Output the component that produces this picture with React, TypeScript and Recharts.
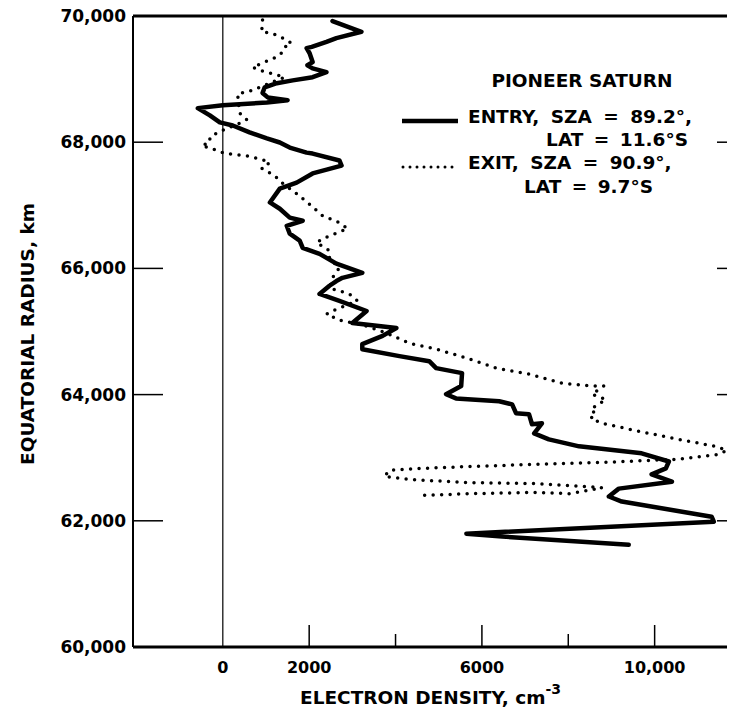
import { ScatterChart, Scatter, XAxis, YAxis, ReferenceLine, Label } from 'recharts';

// Pioneer Saturn occultation profiles
const entryRadius = [
  69920, 69750, 69650, 69590, 69510, 69490, 69410, 69270, 69220, 69170, 69110, 69030, 68980, 68935,
  68870, 68780, 68710, 68665, 68630, 68585, 68540, 68425, 68315, 68265, 68155, 68060, 67995, 67915,
  67835, 67820, 67710, 67630, 67505, 67360, 67265, 67045, 66945, 66805, 66755, 66675, 66550, 66440,
  66325, 66230, 66075, 65930, 65850, 65800, 65725, 65595, 65485, 65325, 65135, 65055, 64930, 64800,
  64720, 64610, 64530, 64420, 64340, 64135, 64005, 63940, 63895, 63845, 63705, 63690, 63530, 63545,
  63385, 63290, 63180, 63070, 62940, 62830, 62735, 62620, 62510, 62385, 62305, 62065, 61985, 61795,
  61750, 61620,
];
const entryDensity = [
  2540, 3210, 2630, 2400, 2060, 1940, 2010, 2080, 1960, 2080, 2400, 2080, 1620, 1250,
  970, 920, 1040, 1500, 1020, 0, -580, -300, -70, 230, 620, 1020, 1320, 1550,
  1940, 2080, 2700, 2750, 2080, 1710, 1320, 1090, 1320, 1550, 1850, 1480, 1550, 1780,
  1850, 2240, 2630, 3230, 2770, 2630, 2470, 2240, 2700, 3330, 3000, 4020, 3700, 3230,
  3230, 4090, 4780, 4940, 5540, 5520, 5170, 5400, 6400, 6700, 6790, 7090, 7160, 7390,
  7210, 7550, 8250, 9700, 10330, 10260, 9930, 10400, 9170, 8940, 9240, 11320, 11370, 5640,
  6470, 9400,
];

const exitRadius = [
  69935, 69745, 69730, 69650, 69570, 69505, 69430, 69350, 69255, 69190, 69140, 69095, 69030, 68825,
  68790, 68775, 68695, 68460, 68360, 68300, 68155, 68075, 67995, 67950, 67870, 67820, 67790, 67725,
  67680, 67585, 67470, 67360, 67185, 67045, 66835, 66725, 66630, 66565, 66470, 66405, 66360, 66280,
  66150, 66010, 65850, 65690, 65595, 65485, 65355, 65275, 65165, 65120, 64975, 64815, 64720, 64580,
  64420, 64325, 64180, 64135, 64135, 64005, 63925, 63765, 63690, 63625, 63545, 63420, 63290, 63180,
  63115, 63050, 62975, 62955, 62925, 62895, 62860, 62830, 62800, 62705, 62655, 62605, 62590, 62525,
  62465, 62430, 62450, 62430, 62400,
];
const exitDensity = [
  920, 900, 1130, 1390, 1590, 1430, 1390, 1250, 920, 690, 860, 1090, 1430, 690,
  550, 350, 350, 390, 550, 390, -120, -300, -300, -490, -140, 50, 510, 900,
  1090, 900, 1200, 1360, 1710, 1960, 2310, 2700, 2890, 2660, 2310, 2170, 2290, 2470,
  2470, 2700, 2540, 2470, 2930, 3120, 2630, 2400, 2770, 3170, 3790, 4320, 4940, 5640,
  6330, 7090, 7850, 8550, 8820, 8550, 8870, 8520, 8640, 8520, 8780, 9630, 10560, 11410,
  11670, 11480, 10560, 9790, 8780, 7250, 5710, 4620, 3860, 3740, 4320, 5710, 7250, 8780,
  8320, 8020, 7250, 5710, 4550,
];

const radiusTicks = [60000, 62000, 64000, 66000, 68000, 70000];
const densityTicks = [0, 2000, 4000, 6000, 8000, 10000];
const labeledDensity = [0, 2000, 6000, 10000];

const entryData = entryRadius.map((r, i) => ({ x: entryDensity[i], y: r }));
const exitData = exitRadius.map((r, i) => ({ x: exitDensity[i], y: r }));

const FONT = '"DejaVu Sans", sans-serif';

const fmtDensity = (v: number) => (v >= 10000 ? v.toLocaleString('en-US') : String(v));
const fmtRadius = (v: number) => v.toLocaleString('en-US');

const BottomTick = ({ x, y, payload }: any) => {
  const v = payload.value;
  const len = v === 0 ? 0 : v % 4000 === 0 ? 13 : 22;
  return (
    <g>
      {len > 0 && <line x1={x} y1={y} x2={x} y2={y - len} stroke="#000" strokeWidth={1.5} />}
      {labeledDensity.includes(v) && (
        <text x={x} y={y + 26} textAnchor="middle" fontFamily={FONT} fontWeight="bold" fontSize={16} fill="#000">
          {fmtDensity(v)}
        </text>
      )}
    </g>
  );
};

const TopTick = ({ x, y, payload }: any) => {
  const v = payload.value;
  const len = v === 0 ? 0 : v % 4000 === 0 ? 16 : 30;
  return len > 0 ? <line x1={x} y1={y} x2={x} y2={y + len} stroke="#000" strokeWidth={1.5} /> : <g />;
};

const LeftTick = ({ x, y, payload }: any) => (
  <g>
    <line x1={x} y1={y} x2={x + 30} y2={y} stroke="#000" strokeWidth={1.5} />
    <text x={x - 7} y={y} dy="0.35em" textAnchor="end" fontFamily={FONT} fontWeight="bold" fontSize={17} fill="#000">
      {fmtRadius(payload.value)}
    </text>
  </g>
);

const RightTick = ({ x, y }: any) => <line x1={x - 24} y1={y} x2={x} y2={y} stroke="#000" strokeWidth={1.5} />;

const XTitle = () => (
  <text x={300} y={704} textAnchor="start" fontFamily={FONT} fontWeight="bold" fontSize={18.5} fill="#000">
    ELECTRON DENSITY, cm
    <tspan dy={-10} fontSize={14}>-3</tspan>
  </text>
);

const YTitle = () => (
  <text
    x={0}
    y={0}
    transform="translate(27, 334) rotate(-90)"
    textAnchor="middle"
    dominantBaseline="central"
    fontFamily={FONT}
    fontWeight="bold"
    fontSize={18.5}
    fill="#000"
  >
    EQUATORIAL RADIUS, km
  </text>
);

const noDot = () => <g />;

const textStyle = { fontFamily: FONT, fontWeight: 'bold' as const, fontSize: 18.5, fill: '#000' };

export default function App() {
  return (
    <div style={{ position: 'relative', margin: '-8px 0 0 -8px', width: 735, height: 709, overflow: 'hidden' }}>
      <ScatterChart width={747} height={709} margin={{ top: 8, right: 0, bottom: 0, left: 8 }}>
        <XAxis
          type="number"
          dataKey="x"
          domain={[-2080, 12000]}
          allowDataOverflow
          ticks={densityTicks}
          interval={0}
          tickSize={0}
          tickMargin={0}
          tick={<BottomTick />}
          axisLine={{ stroke: '#000', strokeWidth: 3 }}
          height={62}
        >
          <Label content={XTitle} />
        </XAxis>
        <XAxis
          xAxisId="top"
          orientation="top"
          type="number"
          domain={[-2080, 12000]}
          allowDataOverflow
          ticks={densityTicks}
          interval={0}
          tickSize={0}
          tickMargin={0}
          tick={<TopTick />}
          axisLine={{ stroke: '#000', strokeWidth: 3 }}
          height={8}
        />
        <YAxis
          type="number"
          dataKey="y"
          domain={[60000, 70000]}
          allowDataOverflow
          ticks={radiusTicks}
          interval={0}
          tickSize={0}
          tickMargin={0}
          tick={<LeftTick />}
          axisLine={{ stroke: '#000', strokeWidth: 2 }}
          width={125}
        >
          <Label content={YTitle} />
        </YAxis>
        <YAxis
          yAxisId="right"
          orientation="right"
          type="number"
          domain={[60000, 70000]}
          allowDataOverflow
          ticks={radiusTicks}
          interval={0}
          tickSize={0}
          tickMargin={0}
          tick={<RightTick />}
          axisLine={{ stroke: '#000', strokeWidth: 2 }}
          width={6}
        />
        <ReferenceLine x={0} stroke="#000" strokeWidth={1.2} />
        <Scatter
          name="Exit"
          data={exitData}
          fill="#000"
          shape={noDot}
          line={{ stroke: '#000', strokeWidth: 3.5, strokeDasharray: '0 8.5', strokeLinecap: 'round', strokeLinejoin: 'round' }}
          isAnimationActive={false}
        />
        <Scatter
          name="Entry"
          data={entryData}
          fill="#000"
          shape={noDot}
          line={{ stroke: '#000', strokeWidth: 4.5, strokeLinejoin: 'round', strokeLinecap: 'round' }}
          isAnimationActive={false}
        />
      </ScatterChart>
      <svg width={735} height={709} style={{ position: 'absolute', left: 0, top: 0, pointerEvents: 'none' }}>
        <text x={582} y={80} textAnchor="middle" dominantBaseline="central" {...textStyle}>PIONEER SATURN</text>
        <line x1={402} y1={121} x2={458} y2={121} stroke="#000" strokeWidth={4.5} />
        <text x={468} y={116} dominantBaseline="central" wordSpacing={5} {...textStyle}>ENTRY, SZA = 89.2°,</text>
        <text x={688} y={139} textAnchor="end" dominantBaseline="central" wordSpacing={4} {...textStyle}>LAT = 11.6°S</text>
        <line x1={403} y1={167} x2={459} y2={167} stroke="#000" strokeWidth={3} strokeDasharray="0 7" strokeLinecap="round" />
        <text x={468} y={162} dominantBaseline="central" wordSpacing={5} {...textStyle}>EXIT, SZA = 90.9°,</text>
        <text x={653} y={186} textAnchor="end" dominantBaseline="central" wordSpacing={4} {...textStyle}>LAT = 9.7°S</text>
      </svg>
    </div>
  );
}
